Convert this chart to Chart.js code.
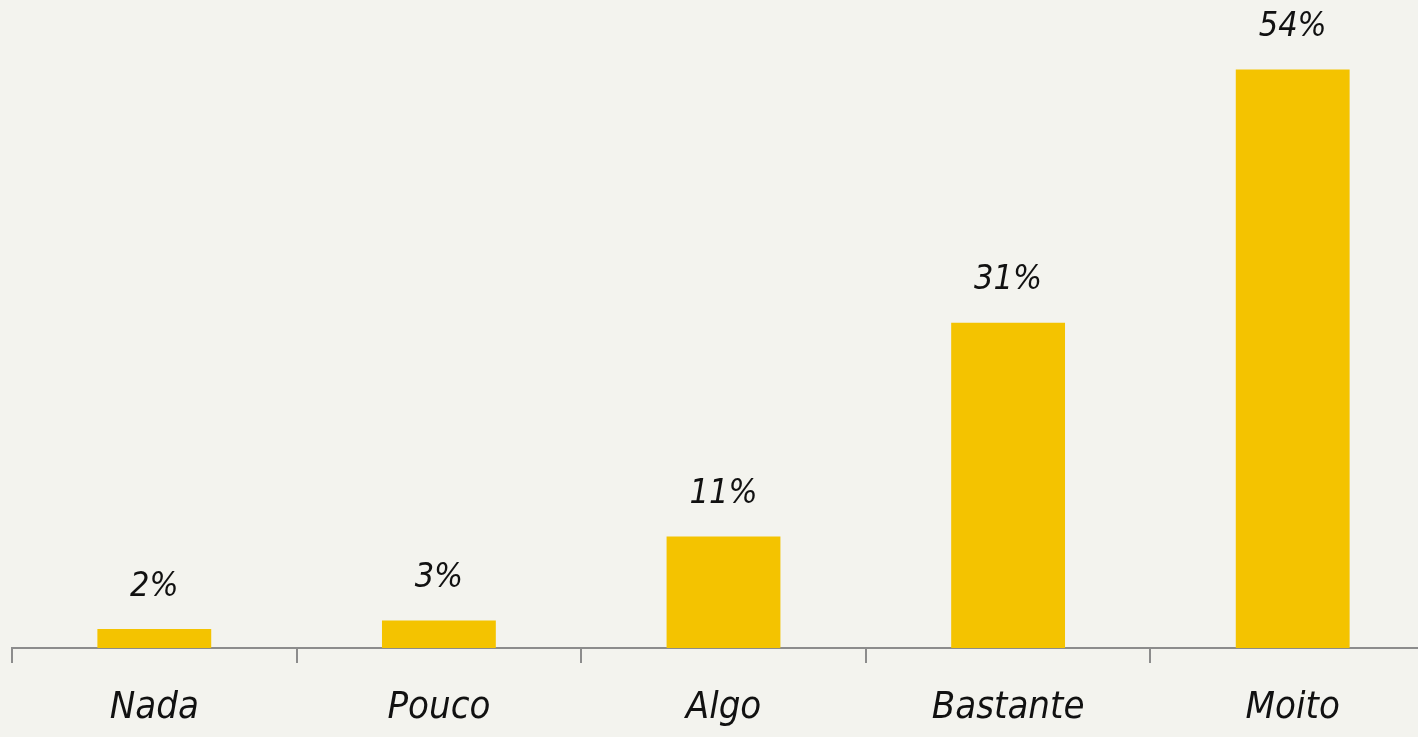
<!DOCTYPE html>
<html>
	<head>
		<meta charset="utf-8">
		<title></title>
		<style type="text/css">
			html,body{margin:0;padding:0;background:#f3f3ee;overflow:hidden;}
			.container{position:absolute;left:0;top:0;width:1435px;height:737px;}
		</style>
	</head>
	<body>
		<div class="container">
			<canvas id="chart-bar"></canvas>
		</div>
		<script src="https://cdn.jsdelivr.net/npm/chart.js@4.4.0/dist/chart.umd.min.js"></script>
		<script type="text/javascript">
			// categorias e valores (%)
			let categories=['Nada','Pouco','Algo','Bastante','Moito'];
			let values=[1.8,2.6,10.5,30.6,54.4];
			let valueLabels=['2%','3%','11%','31%','54%'];

			let fontFamily='"DejaVu Sans Condensed", "Liberation Sans", sans-serif';

			// etiquetas enriba das barras
			let barLabels={
				id:'barLabels',
				afterDatasetsDraw(chart){
					let ctx=chart.ctx;
					let meta=chart.getDatasetMeta(0);
					ctx.save();
					ctx.font='italic 34px '+fontFamily;
					ctx.fillStyle='#111';
					ctx.textAlign='center';
					ctx.textBaseline='middle';
					meta.data.forEach(function(bar,i){
						ctx.fillText(valueLabels[i],bar.x,bar.y-42);
					});
					ctx.restore();
				}
			};

			new Chart(document.getElementById('chart-bar'),{
				type:'bar',
				data:{
					labels:categories,
					datasets:[{
						data:values,
						backgroundColor:'#f4c300',
						categoryPercentage:0.4,
						barPercentage:1
					}]
				},
				options:{
					responsive:true,
					maintainAspectRatio:false,
					animation:false,
					layout:{padding:{left:12,right:0,top:10,bottom:-17}},
					plugins:{legend:{display:false},tooltip:{enabled:false}},
					scales:{
						x:{
							offset:true,
							border:{display:true,color:'#8c8c8c',width:2},
							grid:{
								offset:true,
								drawOnChartArea:false,
								drawTicks:true,
								tickLength:15,
								color:'#8c8c8c',
								lineWidth:2
							},
							ticks:{
								color:'#111',
								padding:16,
								font:{family:fontFamily,size:38,style:'italic',lineHeight:1.55}
							}
						},
						y:{
							display:false,
							min:0,
							max:60
						}
					}
				},
				plugins:[barLabels]
			});
		</script>
	</body>
</html>
